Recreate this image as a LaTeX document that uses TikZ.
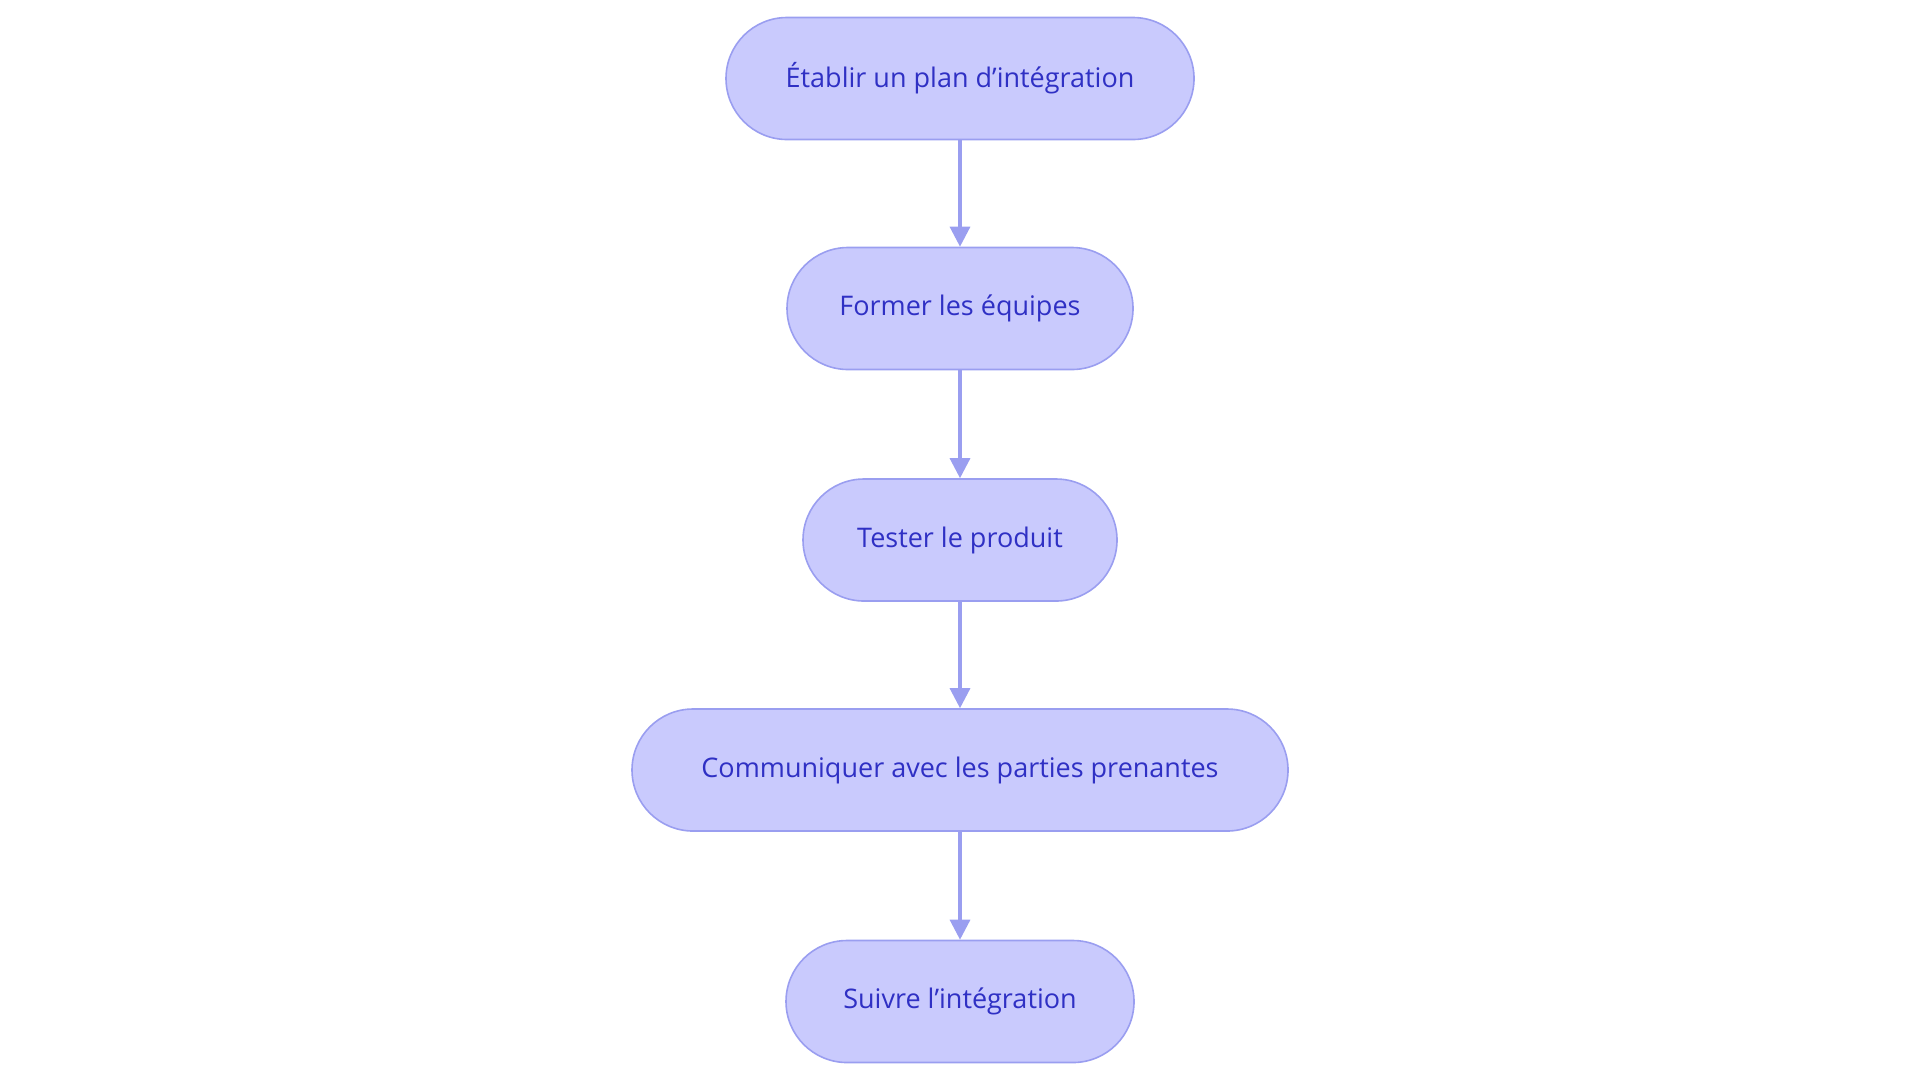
\documentclass[tikz,border=0pt]{standalone}
\usepackage{fontspec}
\setmainfont{Open Sans}
\usetikzlibrary{arrows.meta}
\definecolor{nfill}{HTML}{C9CAFD}
\definecolor{nline}{HTML}{9A9EF0}
\definecolor{ntext}{HTML}{2F30C4}
\begin{document}
\begin{tikzpicture}[x=0.5pt,y=-0.5pt,
  box/.style={draw=nline,line width=0.8pt,fill=nfill,rounded corners=30.5pt,minimum height=61pt,inner sep=0pt,text=ntext,font=\fontsize{13.5}{16}\selectfont},
  arr/.style={draw=nline,line width=1.6pt,-{Triangle[length=10pt,width=10pt]}}]
\useasboundingbox (0,0) rectangle (1920,1083);
\node[box,minimum width=234pt] (a) at (960,78.5) {Établir un plan d'intégration};
\node[box,minimum width=173pt] (b) at (960,308.5) {Former les équipes};
\node[box,minimum width=157pt] (c) at (960,540) {Tester le produit};
\node[box,minimum width=328pt] (d) at (960,770) {Communiquer avec les parties prenantes};
\node[box,minimum width=174pt] (e) at (960,1001.5) {Suivre l'intégration};
\draw[arr] (a) -- (b);
\draw[arr] (b) -- (c);
\draw[arr] (c) -- (d);
\draw[arr] (d) -- (e);
\end{tikzpicture}
\end{document}
